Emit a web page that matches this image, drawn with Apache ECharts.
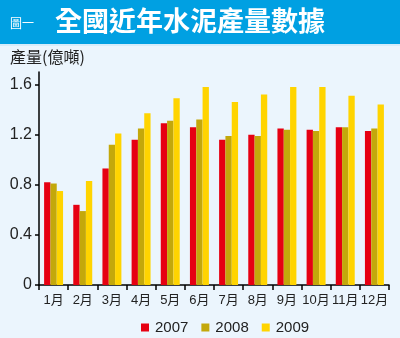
<!DOCTYPE html>
<html>
<head>
<meta charset="utf-8">
<script src="https://cdn.jsdelivr.net/npm/echarts@6/dist/echarts.min.js"></script>
<style>
html,body{margin:0;padding:0;background:#ebf5fd;}
#c{width:400px;height:338px;}
</style>
</head>
<body>
<div id="c"></div>
<script>
var categories = ['1月','2月','3月','4月','5月','6月','7月','8月','9月','10月','11月','12月'];
var seriesNames = ['2007','2008','2009'];
var values2007 = [0.82,0.64,0.93,1.16,1.29,1.26,1.16,1.20,1.25,1.24,1.26,1.23];
var values2008 = [0.81,0.59,1.12,1.25,1.31,1.32,1.19,1.19,1.24,1.23,1.26,1.25];
var values2009 = [0.75,0.83,1.21,1.37,1.49,1.58,1.46,1.52,1.58,1.58,1.51,1.44];
var yTicks = [0,0.4,0.8,1.2,1.6];
var titleText = '全國近年水泥產量數據';
var titlePrefix = '圖一';
var yAxisName = '產量(億噸)';

var colors = ['#e60012','#c3a80b','#ffd400'];
var narrow = '"Liberation Sans Narrow","Arial Narrow","Liberation Sans","Noto Sans CJK TC",sans-serif';
var sans = '"Liberation Sans",Arial,"Noto Sans CJK TC",sans-serif';
var cjk = '"Noto Sans CJK TC","Noto Sans CJK SC",sans-serif';

var chart = echarts.init(document.getElementById('c'), null, {renderer:'canvas'});
var data = [values2007, values2008, values2009];
chart.setOption({
  animation:false,
  backgroundColor:'#ebf5fd',
  color:colors,
  graphic:[
    {type:'rect', left:0, top:0, shape:{width:400,height:44}, style:{fill:'#00a0e2'}},
    {type:'rect', left:0, top:44, shape:{width:400,height:2}, style:{fill:'#d5ecfa'}},
    {type:'text', left:10, top:17, style:{text:titlePrefix, fill:'#ffffff', font:'12px '+cjk}},
    {type:'text', left:55, top:7, style:{text:titleText, fill:'#ffffff', font:'bold 27px '+cjk}},
    {type:'text', left:10, top:49, style:{text:yAxisName, fill:'#222222', font:'16px '+cjk}}
  ],
  legend:{
    data:seriesNames,
    left:136, top:315,
    icon:'rect', itemWidth:8, itemHeight:8, itemGap:13,
    textStyle:{color:'#222', fontSize:15, fontFamily:narrow, padding:[0,0,0,1]}
  },
  grid:{left:39, right:11, top:72, bottom:53, containLabel:false, outerBounds:{left:0,right:0,top:0,bottom:0}},
  xAxis:{
    type:'category', data:categories, boundaryGap:true,
    axisLine:{show:true, lineStyle:{color:'#000', width:1.5}},
    axisTick:{show:true, alignWithLabel:false, length:5, lineStyle:{color:'#000', width:1.5}},
    axisLabel:{color:'#222', fontSize:13, fontFamily:narrow, margin:9, interval:0},
    splitLine:{show:false}
  },
  yAxis:{
    type:'value', min:0, max:1.7,
    axisLine:{show:true, lineStyle:{color:'#000', width:1.5}},
    axisTick:{show:true, length:4, inside:false, customValues:yTicks, lineStyle:{color:'#000', width:1.5}},
    axisLabel:{color:'#222', fontSize:16, fontFamily:sans, margin:7, customValues:yTicks,
      formatter:function(v){return v===0?'0':v.toFixed(1);}},
    splitLine:{show:false}
  },
  series:seriesNames.map(function(n,i){
    return {name:n, type:'bar', data:data[i], barGap:'0%', barCategoryGap:'35%',
      itemStyle:{color:colors[i]}};
  })
});
</script>
</body>
</html>
